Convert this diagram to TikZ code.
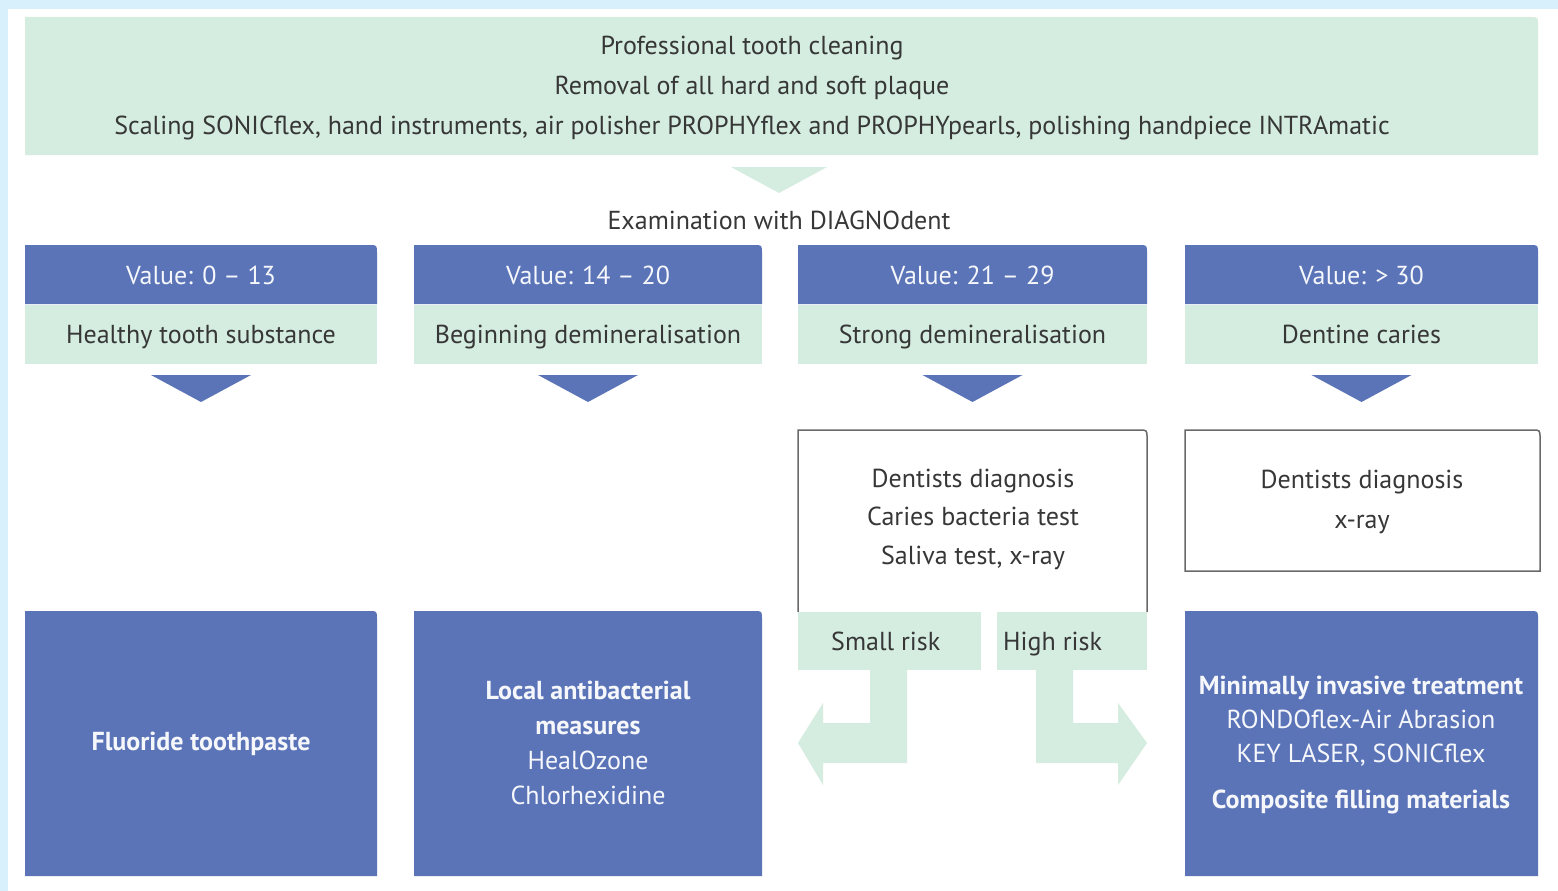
\documentclass[tikz,border=0pt]{standalone}
\usepackage{fontspec}
\setmainfont{PT Sans}
\definecolor{toothblue}{RGB}{91,116,184}
\definecolor{toothgreen}{RGB}{212,237,224}
\definecolor{framesky}{RGB}{216,239,252}
\definecolor{inkgray}{RGB}{55,55,55}
\definecolor{boxline}{RGB}{105,105,105}
\tikzset{
  inktext/.style={text=inkgray,font=\fontsize{26}{40}\selectfont,align=center,inner sep=0pt},
  paletext/.style={text=white!94!toothblue,font=\fontsize{26}{35}\selectfont,align=center,inner sep=0pt},
}
\begin{document}
\begin{tikzpicture}[x=1pt,y=-1pt]
  \fill[framesky] (0,0) rectangle (1558,891);
  \fill[white] (8,9) rectangle (1558,891);
  % professional cleaning
  \fill[toothgreen] (25,155) -- (25,17) -- (1530,17) .. controls (1538,17) .. (1538,25) -- (1538,155) -- cycle;
  \node[inktext] (clean) at (752,88) {Professional tooth cleaning\\Removal of all hard and soft plaque\\Scaling SONICflex, hand instruments, air polisher PROPHYflex and PROPHYpearls, polishing handpiece INTRAmatic};
  \fill[toothgreen] (731,167) -- (827,167) -- (779,193) -- cycle;
  \node[inktext,anchor=base] (exam) at (779,229) {Examination with DIAGNOdent};
  % the four value columns
  \foreach \xa/\xb/\nm/\val/\stage in {25/377/a/{Value: 0 -- 13}/{Healthy tooth substance},
      414/762/b/{Value: 14 -- 20}/{Beginning demineralisation},
      798/1147/c/{Value: 21 -- 29}/{Strong demineralisation},
      1185/1538/d/{Value: > 30}/{Dentine caries}} {
    \fill[toothblue] (\xa,304) -- (\xa,245) -- (\xb-8,245) .. controls (\xb,245) .. (\xb,253) -- (\xb,304) -- cycle;
    \fill[toothgreen] (\xa,305) rectangle (\xb,364);
    \fill[toothblue] ({(\xa+\xb)/2-50},375) -- ({(\xa+\xb)/2+50},375) -- ({(\xa+\xb)/2},402) -- cycle;
    \node[paletext,anchor=base] (val\nm) at ({(\xa+\xb)/2},284) {\val};
    \node[inktext,anchor=base] (stage\nm) at ({(\xa+\xb)/2},343) {\stage};
  }
  % dentists diagnosis
  \draw[boxline,line width=1.5pt] (798,612) -- (798,430) -- (1139,430) .. controls (1147,430) .. (1147,438) -- (1147,612);
  \node[inktext,font=\fontsize{26}{38.5}\selectfont] (diagc) at (973,519) {Dentists diagnosis\\Caries bacteria test\\Saliva test, x-ray};
  \draw[boxline,line width=1.5pt] (1185,571) -- (1185,430) -- (1532,430) .. controls (1540,430) .. (1540,438) -- (1540,571) -- cycle;
  \node[inktext] (diagd) at (1362,502) {Dentists diagnosis\\x-ray};
  % risk arrows
  \fill[toothgreen] (798,612) rectangle (981,670);
  \fill[toothgreen] (870,670) -- (907,670) -- (907,763) -- (823,763) -- (823,785) -- (798,743) -- (823,703) -- (823,723) -- (870,723) -- cycle;
  \node[inktext,anchor=base west] (small) at (831,650) {Small risk};
  \fill[toothgreen] (997,612) rectangle (1147,670);
  \fill[toothgreen] (1036,670) -- (1073,670) -- (1073,723) -- (1118,723) -- (1118,703) -- (1147,743) -- (1118,785) -- (1118,763) -- (1036,763) -- cycle;
  \node[inktext,anchor=base west] (high) at (1003,650) {High risk};
  % treatments
  \foreach \xa/\xb in {25/377,414/762,1185/1538}
    \fill[toothblue] (\xa,876) -- (\xa,611) -- (\xb-8,611) .. controls (\xb,611) .. (\xb,619) -- (\xb,876) -- cycle;
  \node[paletext,anchor=base] (fluor) at (201,750) {\bfseries Fluoride toothpaste};
  \node[paletext] (local) at (588,743) {\bfseries Local antibacterial\\\bfseries measures\\HealOzone\\Chlorhexidine};
  \node[paletext,font=\fontsize{26}{34}\selectfont] (minim) at (1361,745) {\bfseries Minimally invasive treatment\\RONDOflex-Air Abrasion\\KEY LASER, SONICflex\\[12pt]\bfseries Composite filling materials};
\end{tikzpicture}
\end{document}
